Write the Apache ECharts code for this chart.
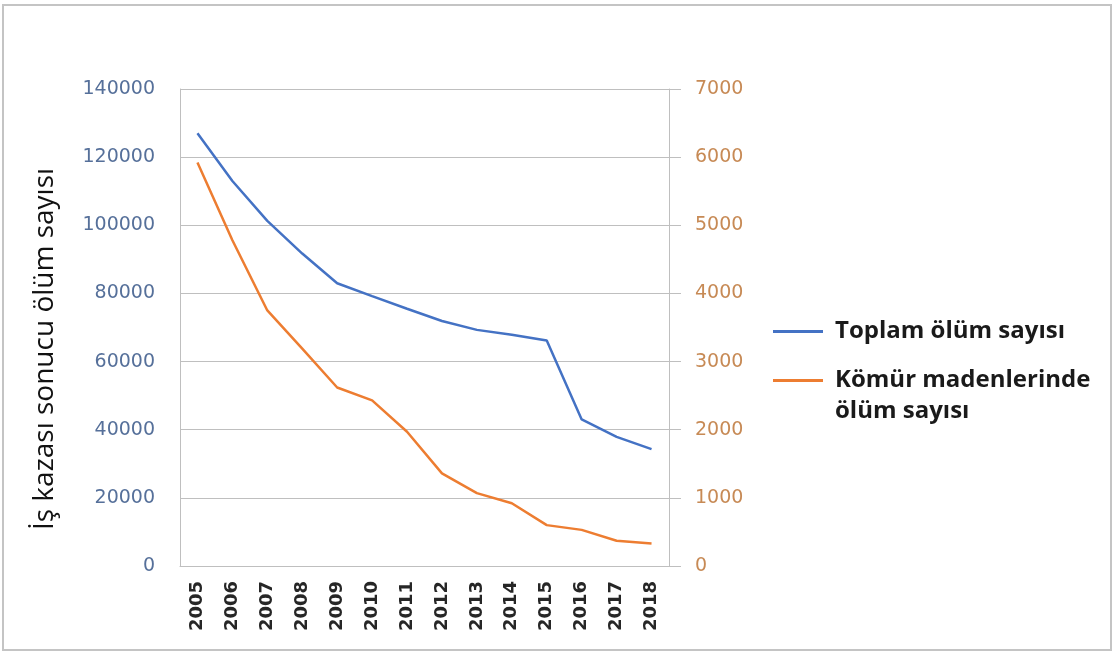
<!DOCTYPE html>
<html>
<head>
<meta charset="utf-8">
<title>İş kazası sonucu ölüm sayısı</title>
<script src="https://cdn.jsdelivr.net/npm/echarts@6/dist/echarts.min.js"></script>
<style>
    html, body { margin: 0; padding: 0; background: #fff; }
    #main { width: 1113px; height: 651px; }
</style>
</head>
<body>
<div id="main"></div>
<script>
"use strict";

// years on the x axis
var years = ['2005', '2006', '2007', '2008', '2009', '2010', '2011',
    '2012', '2013', '2014', '2015', '2016', '2017', '2018'];
// left axis: total deaths
var totalDeaths = [127000, 113000, 101300, 91700, 83000, 79200, 75500,
    71900, 69300, 67900, 66200, 43000, 37900, 34300];
// right axis: deaths in coal mines
var coalDeaths = [5920, 4780, 3750, 3190, 2620, 2430, 1970,
    1360, 1070, 920, 600, 530, 370, 330];
var leftTicks = [0, 140000, 20000];   // min, max, interval
var rightTicks = [0, 7000, 1000];
var seriesNames = ['Toplam ölüm sayısı', 'Kömür madenlerinde\nölüm sayısı'];
var axisTitle = 'İş kazası sonucu ölüm sayısı';

(function (win) {

    var gridColor = '#bfbfbf';

    var chart = echarts.init(document.getElementById('main'));

    /** legend text style */
    var legendText = {
        fontFamily: 'Open Sans',
        fontWeight: 'bold',
        fontSize: 24,
        lineHeight: 31,
        color: '#1a1a1a',
        padding: [0, 0, 0, 7]
    };
    // plain numbers, no thousands separator
    var plain = function (v) {
        return String(v);
    };

    var options = {
        animation: false,
        backgroundColor: '#fff',
        grid: {
            left: 180,
            right: 444,
            top: 89,
            bottom: 85
        },
        legend: [
            {
                left: 773,
                top: 316,
                padding: 0,
                orient: 'vertical',
                icon: 'rect',
                itemWidth: 50,
                itemHeight: 3,
                textStyle: legendText,
                data: [seriesNames[0]]
            },
            {
                // blank first line keeps the icon level with the first text line
                left: 773,
                top: 334,
                padding: 0,
                orient: 'vertical',
                icon: 'rect',
                itemWidth: 50,
                itemHeight: 3,
                textStyle: legendText,
                formatter: function (name) {
                    return '\n' + name;
                },
                data: [seriesNames[1]]
            }
        ],
        xAxis: {
            type: 'category',
            data: years,
            boundaryGap: true,
            axisLine: {lineStyle: {color: gridColor, width: 1}},
            axisTick: {show: false},
            axisLabel: {
                rotate: 90,
                margin: 15,
                interval: 0,
                fontFamily: 'DejaVu Sans',
                fontWeight: 'bold',
                fontSize: 18,
                color: '#262626'
            }
        },
        yAxis: [
            {
                type: 'value',
                min: leftTicks[0],
                max: leftTicks[1],
                interval: leftTicks[2],
                axisLine: {show: true, lineStyle: {color: gridColor}},
                axisTick: {show: false},
                splitLine: {lineStyle: {color: gridColor, width: 1}},
                axisLabel: {
                    margin: 25,
                    formatter: plain,
                    fontFamily: 'DejaVu Sans',
                    fontSize: 19,
                    color: '#56709a'
                }
            },
            {
                type: 'value',
                position: 'right',
                min: rightTicks[0],
                max: rightTicks[1],
                interval: rightTicks[2],
                axisLine: {show: true, lineStyle: {color: gridColor}},
                axisTick: {show: true, length: 12, lineStyle: {color: gridColor}},
                splitLine: {show: false},
                axisLabel: {
                    margin: 26,
                    formatter: plain,
                    fontFamily: 'DejaVu Sans',
                    fontSize: 19,
                    color: '#c78a55'
                }
            }
        ],
        series: [
            {
                name: seriesNames[0],
                type: 'line',
                yAxisIndex: 0,
                showSymbol: false,
                color: '#4472c4',
                lineStyle: {width: 2.5},
                data: totalDeaths
            },
            {
                name: seriesNames[1],
                type: 'line',
                yAxisIndex: 1,
                showSymbol: false,
                color: '#ed7d31',
                lineStyle: {width: 2.5},
                data: coalDeaths
            }
        ],
        graphic: [
            {
                // outer frame
                type: 'rect',
                shape: {x: 3, y: 5, width: 1108, height: 645},
                style: {fill: 'none', stroke: '#c4c4c4', lineWidth: 2},
                silent: true
            },
            {
                type: 'text',
                x: 45,
                y: 349,
                rotation: Math.PI / 2,
                style: {
                    text: axisTitle,
                    fontFamily: 'Open Sans',
                    fontSize: 28,
                    fill: '#111',
                    align: 'center',
                    verticalAlign: 'middle'
                }
            }
        ]
    };

    chart.setOption(options, true);
    win.addEventListener('resize', function () {
        chart.resize();
    });
})(window);
</script>
</body>
</html>
